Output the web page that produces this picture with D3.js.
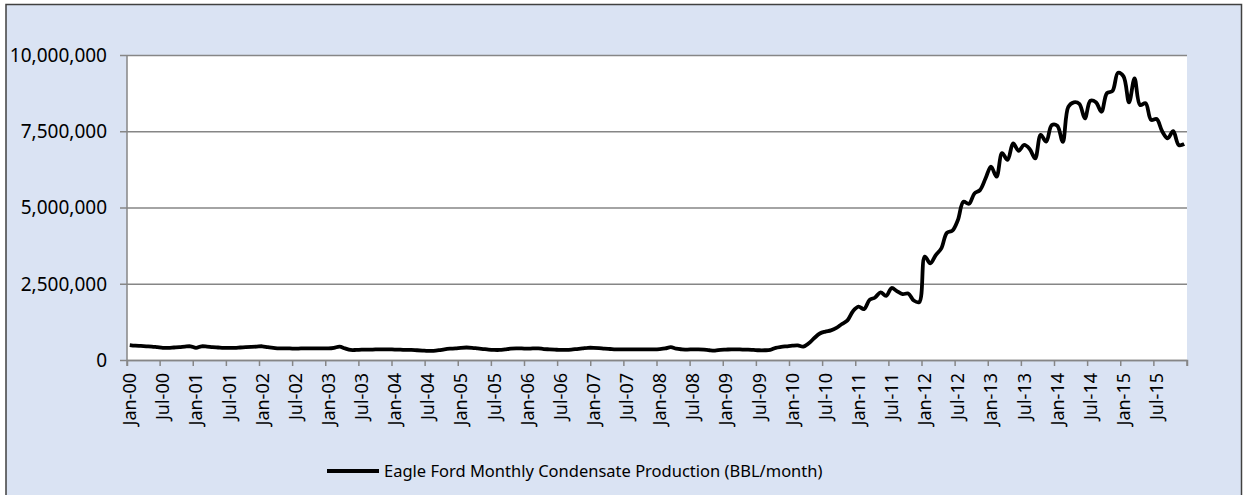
<!DOCTYPE html>
<html>
<head>
<meta charset="utf-8">
<script src="https://cdn.jsdelivr.net/npm/d3@7"></script>
<style>
  body { margin: 0; background: #fff; }
  text { font-family: "Noto Sans", "Open Sans", sans-serif; fill: #000; }
</style>
</head>
<body>
<div id="chart"></div>
<script>
// monthly condensate production, BBL/month, Jan-2000 .. Dec-2015
var production = [
  // 2000
  490000, 470000, 460000, 450000, 440000, 420000, 400000, 400000, 410000, 420000, 440000, 450000,
  // 2001
  400000, 450000, 440000, 420000, 410000, 400000, 400000, 400000, 410000, 420000, 430000, 440000,
  // 2002
  450000, 420000, 400000, 380000, 380000, 380000, 370000, 380000, 380000, 380000, 380000, 380000,
  // 2003
  380000, 400000, 440000, 380000, 330000, 330000, 340000, 340000, 340000, 350000, 350000, 350000,
  // 2004
  340000, 340000, 330000, 330000, 320000, 310000, 300000, 300000, 320000, 350000, 370000, 380000,
  // 2005
  400000, 410000, 400000, 380000, 360000, 340000, 330000, 330000, 350000, 370000, 380000, 380000,
  // 2006
  370000, 380000, 380000, 360000, 350000, 340000, 330000, 330000, 340000, 360000, 380000, 400000,
  // 2007
  400000, 390000, 370000, 360000, 350000, 350000, 350000, 350000, 350000, 350000, 350000, 350000,
  // 2008
  360000, 380000, 420000, 370000, 350000, 340000, 350000, 350000, 340000, 320000, 310000, 330000,
  // 2009
  340000, 350000, 350000, 340000, 340000, 330000, 320000, 320000, 330000, 400000, 430000, 450000,
  // 2010
  470000, 480000, 440000, 550000, 720000, 870000, 930000, 970000, 1050000, 1180000, 1300000, 1600000,
  // 2011
  1750000, 1670000, 1970000, 2050000, 2220000, 2100000, 2360000, 2250000, 2160000, 2180000, 1950000, 1900000,
  // 2012
  3390000, 3170000, 3440000, 3660000, 4170000, 4240000, 4590000, 5190000, 5120000, 5460000, 5570000, 5950000,
  // 2013
  6340000, 6010000, 6780000, 6560000, 7100000, 6860000, 7050000, 6920000, 6610000, 7380000, 7160000, 7700000,
  // 2014
  7680000, 7150000, 8300000, 8450000, 8400000, 7920000, 8500000, 8450000, 8140000, 8750000, 8820000, 9420000,
  // 2015
  9300000, 8450000, 9230000, 8360000, 8420000, 7870000, 7900000, 7500000, 7270000, 7500000, 7050000, 7080000
];

var yTicks = [0, 2500000, 5000000, 7500000, 10000000];
var seriesName = "Eagle Ford Monthly Condensate Production (BBL/month)";

var months = d3.timeMonth.range(new Date(2000, 0, 1), new Date(2016, 0, 1));
var fmt = d3.timeFormat("%b-%y");
var labels = months.map(fmt);
var tickLabels = labels.filter(function(d, i) { return i % 6 === 0; });

var W = 1243, H = 495;
var margin = {top: 55, right: 56, bottom: 135, left: 127},
    width = W - margin.left - margin.right,
    height = H - margin.top - margin.bottom;

var svg = d3.select("#chart")
  .append("svg")
    .attr("width", W)
    .attr("height", H);

// chart area background + border
svg.append("rect")
  .attr("x", 6).attr("y", 4.5)
  .attr("width", 1235.5).attr("height", 500)
  .attr("fill", "#dae3f3")
  .attr("stroke", "#404040")
  .attr("stroke-width", 1.5);

var g = svg.append("g")
  .attr("transform", "translate(" + margin.left + "," + margin.top + ")");

g.append("rect")
  .attr("width", width).attr("height", height)
  .attr("fill", "#fff");

var x = d3.scaleBand()
  .domain(labels)
  .range([0, width])
  .padding(0);

var y = d3.scaleLinear()
  .domain([0, 10000000])
  .range([height, 0]);

// Y axis with gridlines
var yAxis = g.append("g")
  .call(d3.axisLeft(y).tickValues(yTicks).tickSize(-width).tickPadding(20)
    .tickFormat(d3.format(",")));
yAxis.select(".domain").remove();
yAxis.selectAll(".tick line")
  .attr("x1", -7)
  .attr("stroke", "#868686")
  .attr("stroke-width", 1.5);
yAxis.selectAll(".tick text")
  .style("font-size", "19px")
  .attr("dy", "0.34em");

g.append("line")
  .attr("x1", 0).attr("x2", 0)
  .attr("y1", 0).attr("y2", height)
  .attr("stroke", "#868686")
  .attr("stroke-width", 1.5);

// X axis
var xAxis = g.append("g")
  .attr("transform", "translate(0," + height + ")")
  .call(d3.axisBottom(x).tickValues(tickLabels).tickSizeOuter(0).tickSize(6));
xAxis.select(".domain")
  .attr("stroke", "#868686")
  .attr("stroke-width", 1.5);
xAxis.selectAll(".tick line")
  .attr("x1", -x.bandwidth() / 2)
  .attr("x2", -x.bandwidth() / 2)
  .attr("stroke", "#868686")
  .attr("stroke-width", 1.5);
xAxis.append("line")
  .attr("x1", width).attr("x2", width)
  .attr("y1", 0).attr("y2", 6)
  .attr("stroke", "#868686")
  .attr("stroke-width", 1.5);
xAxis.selectAll(".tick text")
  .style("font-size", "18px")
  .attr("text-anchor", "end")
  .attr("transform", "rotate(-90)")
  .attr("x", -13)
  .attr("y", 0)
  .attr("dy", "0.36em");

// line
var line = d3.line()
  .x(function(d, i) { return x(labels[i]) + x.bandwidth() / 2; })
  .y(function(d) { return y(d); })
  .curve(d3.curveCatmullRom);

g.append("path")
  .datum(production)
  .attr("fill", "none")
  .attr("stroke", "#000")
  .attr("stroke-width", 3.8)
  .attr("stroke-linejoin", "round")
  .attr("d", line);

// legend
var legend = svg.append("g")
  .attr("transform", "translate(327,471)");
legend.append("line")
  .attr("x1", 0).attr("x2", 52)
  .attr("stroke", "#000")
  .attr("stroke-width", 3.8);
legend.append("text")
  .attr("x", 57)
  .attr("dy", "0.35em")
  .style("font-size", "16.5px")
  .text(seriesName);
</script>
</body>
</html>
